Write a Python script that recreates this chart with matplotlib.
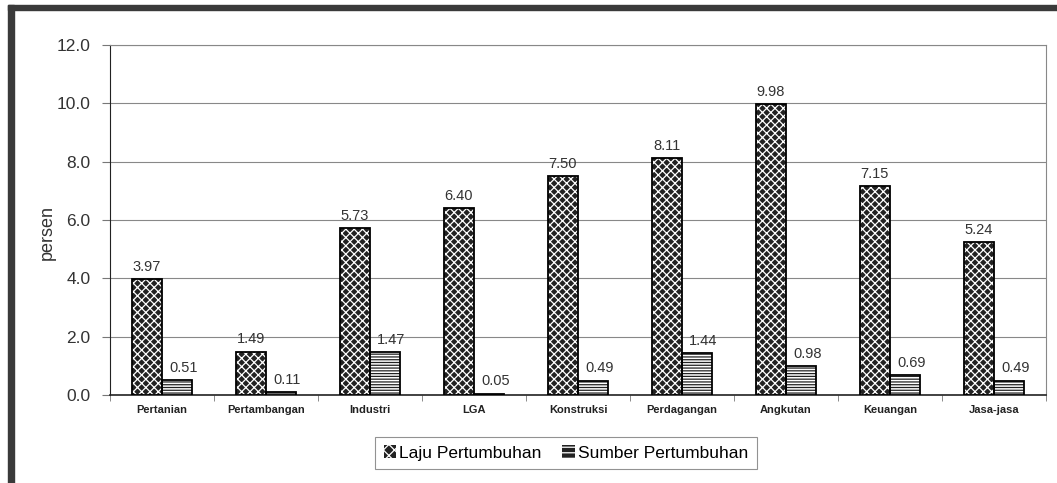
import numpy as np
import matplotlib.pyplot as plt
from matplotlib.patches import Rectangle, Patch

plt.rcParams['font.family'] = ['Liberation Sans', 'DejaVu Sans']
plt.rcParams['hatch.linewidth'] = 0.9

sektor = ['Pertanian', 'Pertambangan', 'Industri', 'LGA', 'Konstruksi',
          'Perdagangan', 'Angkutan', 'Keuangan', 'Jasa-jasa']
laju = [3.97, 1.49, 5.73, 6.40, 7.50, 8.11, 9.98, 7.15, 5.24]
sumber = [0.51, 0.11, 1.47, 0.05, 0.49, 1.44, 0.98, 0.69, 0.49]
yticks = [0.0, 2.0, 4.0, 6.0, 8.0, 10.0, 12.0]

fig = plt.figure(figsize=(10.57, 4.83), dpi=100)
ax = fig.add_axes([0.1041, 0.1822, 0.8855, 0.7246])

# bingkai gelap gambar asli
fig.patches.append(Rectangle((8 / 1057, 0), 6 / 1057, 1 - 5 / 483, transform=fig.transFigure,
                             color='#3a3a3a', zorder=0))
fig.patches.append(Rectangle((8 / 1057, 1 - 10 / 483), 1, 5 / 483, transform=fig.transFigure,
                             color='#3a3a3a', zorder=0))

x = np.arange(len(sektor))
w = 0.29

# laju pertumbuhan: arsir silang putih di atas gelap
ax.bar(x - w / 2, laju, w, color='#222222', edgecolor='white', hatch='xxxx', linewidth=0, zorder=3)
ax.bar(x - w / 2, laju, w, fill=False, edgecolor='black', linewidth=1.3, zorder=4)
# sumber pertumbuhan: garis horizontal
ax.bar(x + w / 2, sumber, w, color='white', edgecolor='#222222', hatch='------', linewidth=0, zorder=3)
ax.bar(x + w / 2, sumber, w, fill=False, edgecolor='black', linewidth=1.3, zorder=4)

for i in range(len(sektor)):
    ax.text(x[i] - w / 2, laju[i] + 0.18, f'{laju[i]:.2f}', ha='center', va='bottom',
            fontsize=10.5, color='#333333')
    ax.text(x[i] + w / 2 + 0.06, sumber[i] + 0.18, f'{sumber[i]:.2f}', ha='center', va='bottom',
            fontsize=10.5, color='#333333')

ax.set_xlim(-0.5, len(sektor) - 0.5)
ax.set_ylim(0, 12)
ax.set_yticks(yticks)
ax.set_yticklabels([f'{v:.1f}' for v in yticks], fontsize=12.5, color='#333333')
ax.yaxis.grid(True, color='#888888', linewidth=0.8, zorder=0)
ax.set_axisbelow(True)
ax.tick_params(axis='y', length=6, color='#777777', pad=8)

ax.set_xticks(x)
ax.set_xticklabels(sektor, fontsize=8, fontweight='bold', color='#222222')
ax.set_xticks(np.arange(-0.5, len(sektor)), minor=True)
ax.tick_params(axis='x', which='major', length=0, pad=7)
ax.tick_params(axis='x', which='minor', length=4, color='#777777')

ax.spines['left'].set_color('#222222')
ax.spines['bottom'].set_color('#222222')
ax.spines['bottom'].set_linewidth(1.2)
ax.spines['right'].set_color('#888888')
ax.spines['top'].set_color('#888888')

ax.set_ylabel('persen', fontsize=13, color='#333333')
ax.yaxis.set_label_coords(-0.058, 0.465)

handles = [Patch(facecolor='#222222', edgecolor='white', hatch='xxx', linewidth=0),
           Patch(facecolor='#222222', edgecolor='white', hatch='---', linewidth=0)]
leg = fig.legend(handles, ['Laju Pertumbuhan', 'Sumber Pertumbuhan'], loc='center',
                 bbox_to_anchor=(566 / 1057, 1 - 453 / 483), ncol=2, fontsize=12.5,
                 frameon=True, fancybox=False, edgecolor='#777777', handlelength=0.7,
                 handleheight=0.7, handletextpad=0.2, columnspacing=1.2, borderpad=0.5,
                 borderaxespad=0)
leg.get_frame().set_linewidth(0.8)

fig.savefig('out.png', dpi=100)
